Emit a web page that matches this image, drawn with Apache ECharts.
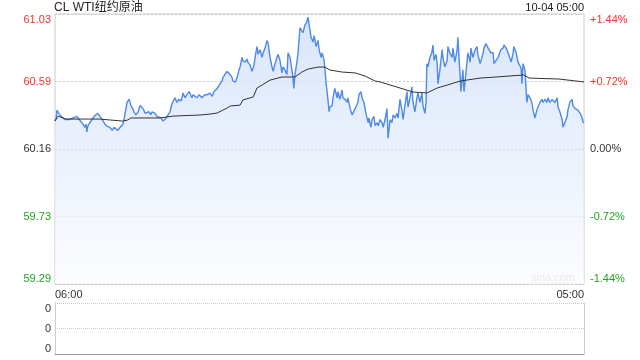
<!DOCTYPE html>
<html>
<head>
<meta charset="utf-8">
<script src="https://cdn.jsdelivr.net/npm/echarts@6/dist/echarts.min.js"></script>
<style>
html,body{margin:0;padding:0;background:#fff;}
#chart{width:640px;height:360px;}
</style>
</head>
<body>
<div id="chart"></div>
<script>
// ---- data ----
const titleText = 'CL WTI纽约原油';
const timeText = '10-04 05:00';
const prevClose = 60.16;
const priceTicks = ['59.29', '59.73', '60.16', '60.59', '61.03'];
const pctTicks = ['-1.44%', '-0.72%', '0.00%', '+0.72%', '+1.44%'];
const timeTicks = ['06:00', '05:00'];
const volTicks = ['0', '0', '0'];
const sessionMinutes = 1380; // 06:00 -> 05:00

// minutes since 06:00
const minutes = [
  0,3,5,8,10,13,16,21,26,31,
  37,42,47,52,57,63,68,73,76,78,
  81,83,86,91,97,102,107,112,115,117,
  123,128,133,138,143,146,149,154,159,164,
  170,175,177,180,185,188,193,196,198,203,
  206,211,217,222,224,230,235,240,245,250,
  253,258,261,266,271,277,282,287,290,295,
  300,305,308,313,318,323,329,334,339,344,
  350,352,357,360,365,370,376,378,383,386,
  391,397,402,404,410,415,417,423,428,430,
  436,438,443,449,451,457,462,464,470,475,
  480,483,488,490,496,501,503,509,514,519,
  524,527,530,535,540,543,548,553,556,561,
  566,569,574,579,582,587,592,595,600,605,
  608,613,618,621,623,626,631,634,639,644,
  647,652,657,660,663,668,673,676,681,686,
  689,694,697,702,704,707,712,715,717,723,
  725,730,736,738,743,749,751,757,762,764,
  770,775,783,790,793,798,801,806,811,817,
  819,824,827,832,835,840,843,848,853,856,
  861,866,869,874,879,882,887,892,895,900,
  905,908,913,918,921,926,931,934,939,944,
  947,952,957,960,965,968,970,973,978,983,
  986,989,994,997,999,1004,1010,1012,1017,1023,
  1025,1030,1036,1038,1043,1049,1051,1057,1059,1064,
  1067,1072,1077,1083,1085,1090,1096,1101,1103,1109,
  1111,1117,1119,1124,1130,1132,1137,1143,1145,1150,
  1156,1158,1163,1169,1171,1177,1182,1184,1190,1195,
  1197,1203,1208,1210,1216,1218,1221,1223,1226,1229,
  1231,1234,1239,1244,1247,1252,1257,1260,1265,1270,
  1273,1278,1283,1286,1291,1297,1299,1304,1310,1312,
  1317,1323,1325,1330,1336,1338,1343,1349,1351,1357,
  1362,1364,1370,1375,1378,1380
];
const prices = [
  60.34,60.36,60.41,60.42,60.39,60.40,60.37,60.36,60.35,60.35,
  60.35,60.35,60.36,60.35,60.37,60.35,60.34,60.32,60.33,60.30,
  60.32,60.27,60.31,60.33,60.35,60.37,60.37,60.39,60.40,60.37,
  60.35,60.33,60.31,60.31,60.30,60.31,60.28,60.30,60.29,60.28,
  60.30,60.29,60.32,60.35,60.42,60.46,60.48,60.46,60.44,60.42,
  60.40,60.38,60.40,60.44,60.45,60.42,60.39,60.40,60.40,60.38,
  60.40,60.41,60.39,60.37,60.37,60.36,60.34,60.33,60.36,60.37,
  60.40,60.45,60.46,60.49,60.46,60.48,60.47,60.52,60.49,60.51,
  60.53,60.54,60.49,60.51,60.50,60.49,60.51,60.51,60.49,60.49,
  60.51,60.51,60.52,60.52,60.50,60.53,60.52,60.55,60.57,60.58,
  60.60,60.62,60.64,60.66,60.67,60.64,60.62,60.60,60.59,60.62,
  60.67,60.69,60.75,60.73,60.72,60.74,60.72,60.70,60.66,60.70,
  60.78,60.82,60.77,60.80,60.75,60.78,60.81,60.86,60.84,60.75,
  60.69,60.66,60.71,60.75,60.77,60.73,60.65,60.69,60.67,60.64,
  60.78,60.75,60.67,60.62,60.55,60.64,60.72,60.78,60.94,60.93,
  60.91,60.96,60.98,61.01,60.96,60.88,60.85,60.89,60.82,60.86,
  60.80,60.75,60.78,60.73,60.68,60.59,60.48,60.40,60.43,60.44,
  60.49,60.55,60.49,60.53,60.48,60.54,60.49,60.48,60.46,60.49,
  60.42,60.38,60.42,60.46,60.51,60.53,60.49,60.46,60.39,60.33,
  60.36,60.30,60.35,60.37,60.31,60.33,60.31,60.35,60.33,60.30,
  60.35,60.42,60.23,60.35,60.33,60.38,60.36,60.39,60.36,60.48,
  60.41,60.35,60.44,60.53,60.43,60.49,60.56,60.46,60.40,60.49,
  60.52,60.46,60.52,60.44,60.39,60.46,60.71,60.69,60.75,60.78,
  60.83,60.73,60.77,60.71,60.58,60.67,60.80,60.75,60.69,60.73,
  60.82,60.78,60.75,60.81,60.72,60.80,60.88,60.62,60.53,60.67,
  60.53,60.65,60.78,60.72,60.81,60.75,60.80,60.82,60.77,60.71,
  60.72,60.78,60.81,60.84,60.81,60.82,60.78,60.78,60.71,60.70,
  60.75,60.75,60.80,60.81,60.83,60.81,60.78,60.77,60.72,60.78,
  60.82,60.78,60.72,60.71,60.68,60.58,60.71,60.72,60.67,60.54,
  60.46,60.51,60.49,60.46,60.41,60.36,60.41,60.43,60.46,60.48,
  60.46,60.48,60.46,60.49,60.46,60.48,60.49,60.46,60.49,60.43,
  60.40,60.35,60.30,60.33,60.37,60.41,60.46,60.48,60.44,60.42,
  60.43,60.41,60.39,60.36,60.33,60.33
];
const avgMinutes = [0,8,13,21,29,117,143,177,190,198,274,308,378,404,423,449,457,483,490,517,527,540,553,561,592,626,644,660,686,704,717,749,783,809,835,848,908,934,970,997,1023,1057,1109,1150,1223,1237,1315,1380];
const avgPrices = [60.340,60.372,60.379,60.360,60.353,60.353,60.347,60.340,60.347,60.360,60.360,60.372,60.379,60.385,60.392,60.424,60.437,60.443,60.476,60.495,60.553,60.572,60.592,60.604,60.624,60.624,60.656,60.675,60.688,60.688,60.669,60.656,60.650,60.630,60.598,60.592,60.547,60.527,60.521,60.553,60.572,60.598,60.617,60.624,60.637,60.617,60.611,60.592];

// ---- chart ----
const FONT = '"Liberation Sans", Arial, "Noto Sans CJK SC", sans-serif';
const RED = '#f0352d', GREEN = '#1fa51f', DARK = '#333';
const pctColor = v => { v = Number(v); return v > 0.001 ? RED : (v < -0.001 ? GREEN : DARK); };
const pctIdx = v => Math.round(Number(v) / 0.72) + 2;

const chart = echarts.init(document.getElementById('chart'), null, {renderer: 'canvas'});
const priceSeries = minutes.map((m, i) => [m, prices[i]]);
const avgSeries = avgMinutes.map((m, i) => [m, avgPrices[i]]);

chart.setOption({
  animation: false,
  backgroundColor: '#fff',
  textStyle: {fontFamily: FONT},
  title: [
    {text: titleText, left: 54, top: 2, padding: 0,
     textStyle: {fontSize: 12, fontWeight: 'normal', color: '#222', fontFamily: FONT}},
    {text: timeText, right: 56, top: 2, padding: 0,
     textStyle: {fontSize: 11, fontWeight: 'normal', color: '#222', fontFamily: FONT}}
  ],
  graphic: [
    {type: 'text', right: 65, top: 272, silent: true,
     style: {text: 'sina.com', fill: '#bdbdbd', fontSize: 11, fontFamily: FONT}}
  ],
  grid: [
    {left: 55, top: 14, width: 529, height: 270, show: true, borderColor: '#ccc', borderWidth: 1},
    {left: 55, top: 303, width: 529, height: 51, show: false}
  ],
  xAxis: [
    {type: 'value', gridIndex: 0, min: 0, max: sessionMinutes, interval: sessionMinutes,
     axisLine: {show: false}, axisTick: {show: false}, splitLine: {show: false},
     axisLabel: {show: true, margin: 5, fontSize: 11, color: DARK, fontFamily: FONT,
       alignMinLabel: 'left', alignMaxLabel: 'right',
       formatter: (v, i) => timeTicks[i] }},
    {type: 'value', gridIndex: 1, min: 0, max: sessionMinutes, interval: sessionMinutes,
     axisLine: {show: true, onZero: false, lineStyle: {color: '#999', width: 1}},
     axisTick: {show: false}, axisLabel: {show: false},
     splitLine: {show: true, lineStyle: {color: '#ccc', width: 1, type: 'solid'}}}
  ],
  yAxis: [
    {type: 'value', gridIndex: 0, position: 'left', min: -1.44, max: 1.44, interval: 0.72,
     axisLine: {show: false}, axisTick: {show: false},
     splitLine: {show: true, lineStyle: {color: ['#ccc', '#ccc', '#aaa', '#ccc', '#ccc'], type: [2, 2], width: 1}},
     axisLabel: {margin: 4, fontSize: 11, fontFamily: FONT,
       verticalAlignMinLabel: 'bottom', verticalAlignMaxLabel: 'top',
       color: v => pctColor(v),
       formatter: v => priceTicks[pctIdx(v)]}},
    {type: 'value', gridIndex: 0, position: 'right', min: -1.44, max: 1.44, interval: 0.72,
     axisLine: {show: false}, axisTick: {show: false}, splitLine: {show: false},
     axisLabel: {margin: 6, fontSize: 11, fontFamily: FONT,
       verticalAlignMinLabel: 'bottom', verticalAlignMaxLabel: 'top',
       color: v => pctColor(v),
       formatter: v => pctTicks[pctIdx(v)]}},
    {type: 'value', gridIndex: 0, show: false,
     min: Number(priceTicks[0]), max: Number(priceTicks[priceTicks.length - 1])},
    {type: 'value', gridIndex: 1, position: 'left', min: 0, max: 2, interval: 1,
     axisLine: {show: true, lineStyle: {color: '#ccc'}}, axisTick: {show: false},
     splitLine: {show: true, lineStyle: {color: '#ccc', type: [1, 1], width: 1}},
     axisLabel: {margin: 4, fontSize: 11, color: DARK, fontFamily: FONT,
       verticalAlignMinLabel: 'bottom', verticalAlignMaxLabel: 'top',
       formatter: (v, i) => volTicks[i]}}
  ],
  series: [
    {type: 'line', name: 'price', xAxisIndex: 0, yAxisIndex: 2, data: priceSeries,
     symbol: 'none', smooth: false,
     lineStyle: {color: '#4f8ae6', width: 1.4},
     areaStyle: {origin: 'start', color: new echarts.graphic.LinearGradient(0, 0, 0, 1, [
       {offset: 0, color: '#c9dbf8'}, {offset: 1, color: '#fbfcff'}])},
     z: 2},
    {type: 'line', name: 'avg', xAxisIndex: 0, yAxisIndex: 2, data: avgSeries,
     symbol: 'none', lineStyle: {color: '#333', width: 1}, z: 3}
  ]
});
</script>
</body>
</html>
